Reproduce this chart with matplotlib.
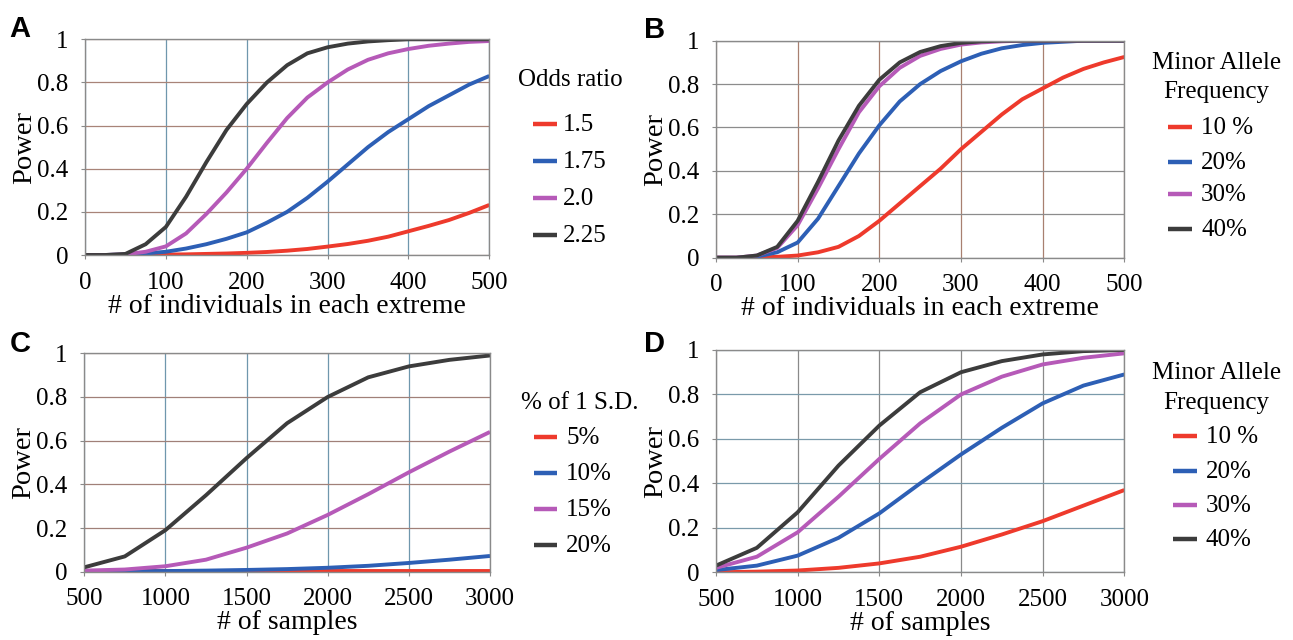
import matplotlib
matplotlib.use("Agg")
import matplotlib.pyplot as plt
from matplotlib.lines import Line2D

plt.rcParams['font.family'] = ['Liberation Serif', 'DejaVu Serif']

# ---- panel A: power vs individuals, by odds ratio
a_x = [0, 25, 50, 75, 100, 125, 150, 175, 200, 225, 250, 275, 300, 325, 350, 375, 400, 425, 450, 475, 500]
a_or15 = [0, 0, 0, 0, 0.002, 0.003, 0.005, 0.007, 0.01, 0.014, 0.02, 0.028, 0.039, 0.051, 0.066, 0.085, 0.11, 0.135, 0.162, 0.195, 0.232]
a_or175 = [0, 0, 0.002, 0.007, 0.015, 0.03, 0.05, 0.075, 0.105, 0.15, 0.2, 0.265, 0.34, 0.42, 0.5, 0.57, 0.63, 0.69, 0.74, 0.79, 0.83]
a_or20 = [0, 0, 0.003, 0.015, 0.04, 0.1, 0.19, 0.29, 0.4, 0.52, 0.635, 0.73, 0.8, 0.86, 0.905, 0.935, 0.955, 0.97, 0.98, 0.988, 0.992]
a_or225 = [0, 0, 0.005, 0.05, 0.13, 0.27, 0.43, 0.58, 0.7, 0.8, 0.88, 0.935, 0.963, 0.98, 0.99, 0.996, 1, 1, 1, 1, 1]
a_labels = ['1.5', '1.75', '2.0', '2.25']

# ---- panel B: power vs individuals, by minor allele frequency
b_x = [0, 25, 50, 75, 100, 125, 150, 175, 200, 225, 250, 275, 300, 325, 350, 375, 400, 425, 450, 475, 500]
b_maf10 = [0, 0, 0.001, 0.004, 0.01, 0.025, 0.05, 0.1, 0.17, 0.25, 0.33, 0.41, 0.5, 0.58, 0.66, 0.73, 0.78, 0.83, 0.87, 0.9, 0.925]
b_maf20 = [0, 0, 0.005, 0.025, 0.07, 0.18, 0.33, 0.48, 0.61, 0.72, 0.8, 0.86, 0.905, 0.94, 0.965, 0.98, 0.99, 0.995, 1, 1, 1]
b_maf30 = [0, 0, 0.01, 0.045, 0.15, 0.32, 0.5, 0.67, 0.79, 0.875, 0.93, 0.962, 0.982, 0.992, 0.997, 1, 1, 1, 1, 1, 1]
b_maf40 = [0, 0, 0.01, 0.05, 0.17, 0.35, 0.54, 0.7, 0.82, 0.9, 0.948, 0.975, 0.99, 0.997, 1, 1, 1, 1, 1, 1, 1]
b_labels = ['10 %', '20%', '30%', '40%']

# ---- panel C: power vs samples, by % of 1 S.D.
c_x = [500, 750, 1000, 1250, 1500, 1750, 2000, 2250, 2500, 2750, 3000]
c_sd5 = [0.002, 0.002, 0.002, 0.002, 0.002, 0.002, 0.002, 0.002, 0.002, 0.002, 0.002]
c_sd10 = [0, 0.002, 0.003, 0.005, 0.008, 0.012, 0.018, 0.027, 0.04, 0.055, 0.072]
c_sd15 = [0.005, 0.01, 0.025, 0.055, 0.11, 0.175, 0.26, 0.355, 0.455, 0.55, 0.64]
c_sd20 = [0.02, 0.07, 0.19, 0.35, 0.52, 0.68, 0.8, 0.89, 0.94, 0.97, 0.99]
c_labels = ['5%', '10%', '15%', '20%']

# ---- panel D: power vs samples, by minor allele frequency
d_x = [500, 750, 1000, 1250, 1500, 1750, 2000, 2250, 2500, 2750, 3000]
d_maf10 = [0, 0.003, 0.008, 0.02, 0.04, 0.07, 0.115, 0.17, 0.23, 0.3, 0.37]
d_maf20 = [0.01, 0.03, 0.075, 0.155, 0.265, 0.4, 0.53, 0.65, 0.76, 0.84, 0.89]
d_maf30 = [0.02, 0.07, 0.18, 0.34, 0.51, 0.67, 0.8, 0.88, 0.935, 0.965, 0.985]
d_maf40 = [0.03, 0.11, 0.27, 0.48, 0.66, 0.81, 0.9, 0.95, 0.98, 0.995, 1.0]
d_labels = ['10 %', '20%', '30%', '40%']

colors = ['#ee3a2c', '#2d5fb5', '#b65ab8', '#3c3c3c']

W, H = 1293, 640
fig = plt.figure(figsize=(W / 100, H / 100), dpi=100)


def fx(px):
    return px / W


def fy(py):
    return 1 - py / H


# box in pixels: left, top (y=1), right, bottom (y=0)
panels = [
    dict(letter='A', box=(85, 39.3, 489.3, 255), xs=a_x, series=[a_or15, a_or175, a_or20, a_or225],
         labels=a_labels, title=['Odds ratio'], xlabel='# of individuals in each extreme',
         xlim=(0, 500), xticks=range(0, 501, 100), xgc='#6f97ad', ygc='#a88478', lpad=0,
         lt=[(570, 80)], lx=(533, 557, 563), ly=[125, 162, 199, 236], lc=(20, 29)),
    dict(letter='B', box=(716, 40.7, 1124.3, 257.7), xs=b_x, series=[b_maf10, b_maf20, b_maf30, b_maf40],
         labels=b_labels, title=['Minor Allele', 'Frequency'], xlabel='# of individuals in each extreme',
         xlim=(0, 500), xticks=range(0, 501, 100), xgc='#a88070', ygc='#8c8c8c', lpad=0,
         lt=[(1217, 63), (1216, 92)], lx=(1168, 1192, 1201), ly=[128, 163, 195, 230], lc=(655, 30)),
    dict(letter='C', box=(84.2, 353.3, 490, 571.7), xs=c_x, series=[c_sd5, c_sd10, c_sd15, c_sd20],
         labels=c_labels, title=['% of 1 S.D.'], xlabel='# of samples',
         xlim=(500, 3000), xticks=range(500, 3001, 500), xgc='#6f97ad', ygc='#a08078', lpad=0,
         lt=[(580, 403)], lx=(534, 557, 566), ly=[438, 474, 510, 546], lc=(20, 344)),
    dict(letter='D', box=(716, 350, 1124.3, 572.3), xs=d_x, series=[d_maf10, d_maf20, d_maf30, d_maf40],
         labels=d_labels, title=['Minor Allele', 'Frequency'], xlabel='# of samples',
         xlim=(500, 3000), xticks=range(500, 3001, 500), xgc='#8a8a8a', ygc='#7a9aaa', lpad=0,
         lt=[(1217, 373), (1216, 403)], lx=(1173, 1197, 1206), ly=[437, 472, 506, 540], lc=(655, 344)),
]

for p in panels:
    l, t, r, b = p['box']
    ax = fig.add_axes([fx(l), fy(b), (r - l) / W, (b - t) / H])
    for ys, lab, c in zip(p['series'], p['labels'], colors):
        ax.plot(p['xs'], ys, color=c, lw=2.8, label=lab, solid_capstyle='butt')
    ax.set_xlim(*p['xlim'])
    ax.set_ylim(0, 1)
    ax.set_xticks(list(p['xticks']))
    ax.set_yticks([0, 0.2, 0.4, 0.6, 0.8, 1])
    ax.set_yticklabels(['0', '0.2', '0.4', '0.6', '0.8', '1'])
    ax.tick_params(length=3, color='#8a8a8a', labelsize=18)
    ax.tick_params(axis='x', pad=9)
    ax.tick_params(axis='y', pad=9)
    ax.xaxis.grid(True, color=p['xgc'], lw=0.9)
    ax.yaxis.grid(True, color=p['ygc'], lw=0.9)
    ax.set_axisbelow(True)
    for s in ax.spines.values():
        s.set_color('#8a8a8a')
        s.set_linewidth(1.0)
    ax.set_ylabel('Power', fontsize=20.5, labelpad=0)
    ax.set_xlabel(p['xlabel'], fontsize=20, labelpad=p['lpad'])

    # legend, drawn by hand to follow the reference placement
    for (tx, ty), line in zip(p['lt'], p['title']):
        fig.text(fx(tx), fy(ty), line, fontsize=18, ha='center', va='center')
    x0, x1, xt = p['lx']
    for yy, lab, c in zip(p['ly'], p['labels'], colors):
        fig.add_artist(Line2D([fx(x0), fx(x1)], [fy(yy - 1), fy(yy - 1)], color=c, lw=3.2,
                              transform=fig.transFigure, solid_capstyle='butt'))
        fig.text(fx(xt), fy(yy), lab, fontsize=18, ha='left', va='center')

    fig.text(fx(p['lc'][0]), fy(p['lc'][1]), p['letter'], fontsize=21, fontweight='bold',
             family='Liberation Sans', ha='center', va='center')

fig.savefig('out.png', dpi=100)
